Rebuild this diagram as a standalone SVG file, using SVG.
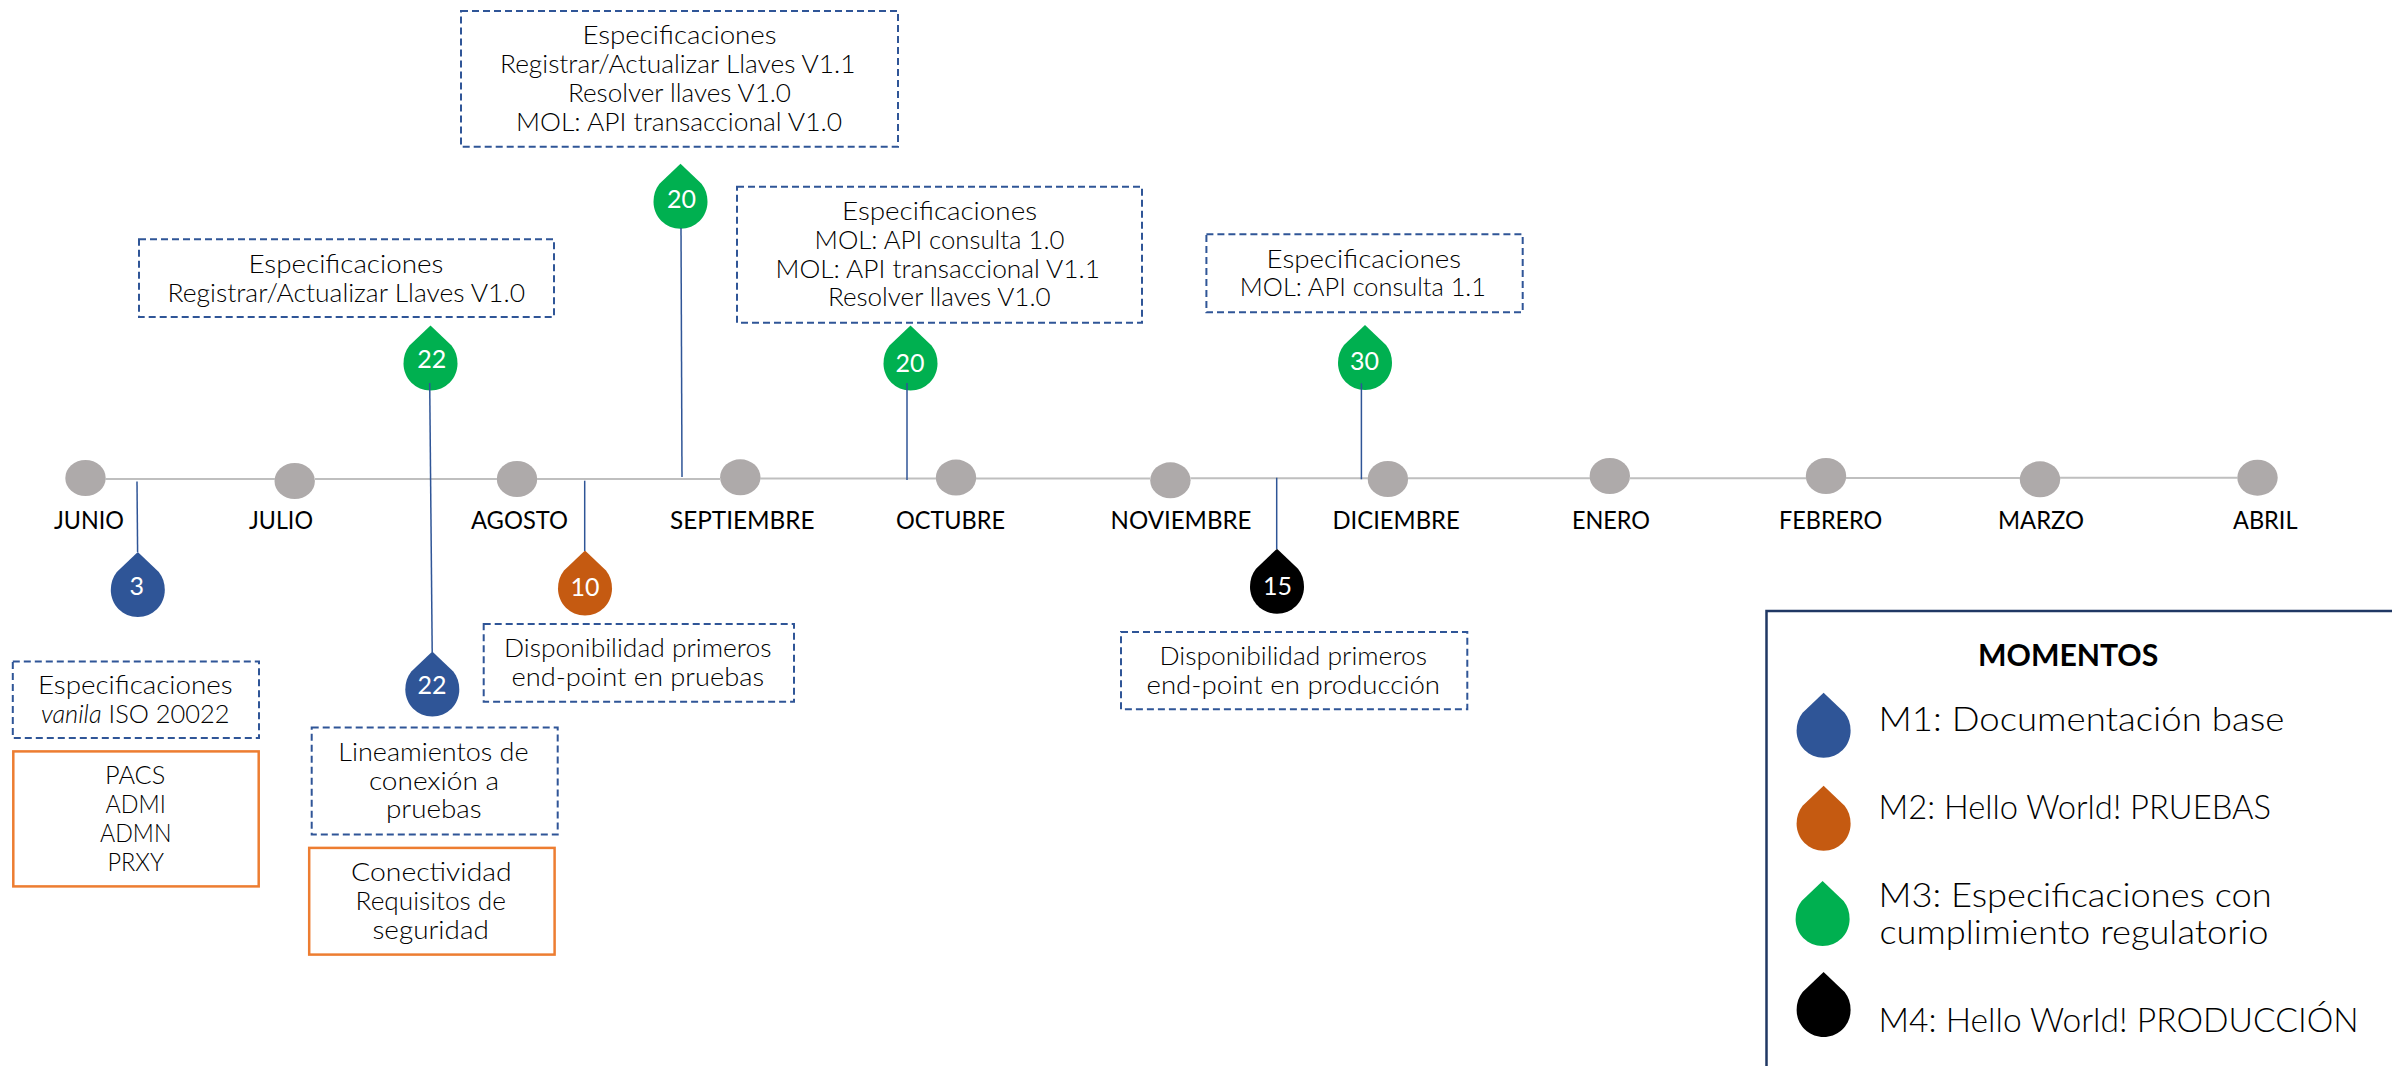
<svg xmlns="http://www.w3.org/2000/svg" width="2392" height="1066" viewBox="0 0 2392 1066">
<style>
.b{fill:#fff;stroke:#2F5597;stroke-width:2;stroke-dasharray:7 4}
.o{fill:#fff;stroke:#ED7D31;stroke-width:2.5}
.t{font-family:"Lato","Liberation Sans",sans-serif;font-size:25px;font-weight:300;fill:#000}
.m{font-family:"Lato","Liberation Sans",sans-serif;font-size:25px;fill:#000}
.n{font-family:"Lato","Liberation Sans",sans-serif;font-size:25px;fill:#fff;text-anchor:middle}
.l{font-family:"Lato","Liberation Sans",sans-serif;font-size:34px;font-weight:300;fill:#000}
.h{font-family:"Lato","Liberation Sans",sans-serif;font-size:31px;font-weight:700;fill:#000}
.e{fill:#AEAAAA}
.axis{fill:none;stroke:#BFBFBF;stroke-width:2}
.c{fill:none;stroke:#2F5597;stroke-width:1.5}
.blue{fill:#2F5597}.orange{fill:#C55A11}.green{fill:#00B050}.black{fill:#000}
</style>
<defs>
<path id="drop" d="M0 0L21 20C25 25 27 31 27 38C27 53 15 65 0 65C-15 65-27 53-27 38C-27 31-25 25-21 20Z"/>
</defs>

<g id="month-junio"><ellipse class="e" cx="85.5" cy="478" rx="20.2" ry="18"/><text class="m" x="54" y="528.6" textLength="70" lengthAdjust="spacingAndGlyphs">JUNIO</text></g>
<g id="month-julio"><ellipse class="e" cx="294.7" cy="481" rx="20.2" ry="18"/><text class="m" x="249" y="528.6" textLength="64" lengthAdjust="spacingAndGlyphs">JULIO</text></g>
<g id="month-agosto"><ellipse class="e" cx="517" cy="479" rx="20.2" ry="18"/><text class="m" x="471" y="528.6" textLength="97" lengthAdjust="spacingAndGlyphs">AGOSTO</text></g>
<g id="month-septiembre"><ellipse class="e" cx="740.3" cy="477.3" rx="20.2" ry="18"/><text class="m" x="670" y="528.6" textLength="144.6" lengthAdjust="spacingAndGlyphs">SEPTIEMBRE</text></g>
<g id="month-octubre"><ellipse class="e" cx="956" cy="477.6" rx="20.2" ry="18"/><text class="m" x="896" y="528.6" textLength="109" lengthAdjust="spacingAndGlyphs">OCTUBRE</text></g>
<g id="month-noviembre"><ellipse class="e" cx="1170.4" cy="480.3" rx="20.2" ry="18"/><text class="m" x="1110.5" y="528.6" textLength="141" lengthAdjust="spacingAndGlyphs">NOVIEMBRE</text></g>
<g id="month-diciembre"><ellipse class="e" cx="1387.9" cy="479" rx="20.2" ry="18"/><text class="m" x="1332.5" y="528.6" textLength="127.3" lengthAdjust="spacingAndGlyphs">DICIEMBRE</text></g>
<g id="month-enero"><ellipse class="e" cx="1609.8" cy="476" rx="20.2" ry="18"/><text class="m" x="1572" y="528.6" textLength="78" lengthAdjust="spacingAndGlyphs">ENERO</text></g>
<g id="month-febrero"><ellipse class="e" cx="1826" cy="476" rx="20.2" ry="18"/><text class="m" x="1779" y="528.6" textLength="103.3" lengthAdjust="spacingAndGlyphs">FEBRERO</text></g>
<g id="month-marzo"><ellipse class="e" cx="2040" cy="479.3" rx="20.2" ry="18"/><text class="m" x="1998" y="528.6" textLength="86" lengthAdjust="spacingAndGlyphs">MARZO</text></g>
<g id="month-abril"><ellipse class="e" cx="2257.5" cy="477.7" rx="20.2" ry="18"/><text class="m" x="2233" y="528.6" textLength="64.5" lengthAdjust="spacingAndGlyphs">ABRIL</text></g>

<g id="drop-3"><use href="#drop" class="blue" x="137.8" y="552"/><text class="n" x="136.8" y="595">3</text></g>
<g id="drop-22-verde"><use href="#drop" class="green" x="430.5" y="325.5"/><text class="n" x="431.7" y="367.7">22</text></g>
<g id="drop-22-azul"><use href="#drop" class="blue" x="432.3" y="651.5"/><text class="n" x="432" y="694">22</text></g>
<g id="drop-10"><use href="#drop" class="orange" x="585" y="550.5"/><text class="n" x="585" y="596">10</text></g>
<g id="drop-20-a"><use href="#drop" class="green" x="680.5" y="163.7"/><text class="n" x="681.5" y="207.7">20</text></g>
<g id="drop-20-b"><use href="#drop" class="green" x="910.5" y="325.5"/><text class="n" x="910" y="371.7">20</text></g>
<g id="drop-15"><use href="#drop" class="black" x="1277" y="548.7"/><text class="n" x="1277.5" y="594.7">15</text></g>
<g id="drop-30"><use href="#drop" class="green" x="1365" y="325"/><text class="n" x="1364.5" y="370">30</text></g>

<g id="box-vanila"><rect class="b" x="12.8" y="661.4" width="246.2" height="76.6"/>
<text class="t" x="38" y="694.3" textLength="194.6" lengthAdjust="spacingAndGlyphs">Especificaciones</text>
<text class="t" x="41" y="722.9" textLength="188.6" lengthAdjust="spacingAndGlyphs"><tspan font-style="italic">vanila</tspan> ISO 20022</text></g>
<g id="box-pacs"><rect class="o" x="13.3" y="751.4" width="245.4" height="135"/>
<text class="t" x="105" y="783.6" textLength="60.3" lengthAdjust="spacingAndGlyphs">PACS</text>
<text class="t" x="105.5" y="812.9" textLength="60.3" lengthAdjust="spacingAndGlyphs">ADMI</text>
<text class="t" x="100" y="841.8" textLength="71.4" lengthAdjust="spacingAndGlyphs">ADMN</text>
<text class="t" x="107.5" y="870.7" textLength="56.5" lengthAdjust="spacingAndGlyphs">PRXY</text></g>
<g id="box-llaves-10"><rect class="b" x="139" y="239.3" width="415" height="77.7"/>
<text class="t" x="248.5" y="272.7" textLength="194.8" lengthAdjust="spacingAndGlyphs">Especificaciones</text>
<text class="t" x="167.5" y="302" textLength="357.5" lengthAdjust="spacingAndGlyphs">Registrar/Actualizar Llaves V1.0</text></g>
<g id="box-llaves-11"><rect class="b" x="461" y="11" width="437" height="135.7"/>
<text class="t" x="582.5" y="44" textLength="194.1" lengthAdjust="spacingAndGlyphs">Especificaciones</text>
<text class="t" x="500" y="73" textLength="355.5" lengthAdjust="spacingAndGlyphs">Registrar/Actualizar Llaves V1.1</text>
<text class="t" x="568" y="101.7" textLength="223" lengthAdjust="spacingAndGlyphs">Resolver llaves V1.0</text>
<text class="t" x="516" y="131" textLength="326" lengthAdjust="spacingAndGlyphs">MOL: API transaccional V1.0</text></g>
<g id="box-mol"><rect class="b" x="737" y="186.7" width="405" height="136"/>
<text class="t" x="842" y="220" textLength="195" lengthAdjust="spacingAndGlyphs">Especificaciones</text>
<text class="t" x="814.6" y="249" textLength="249.8" lengthAdjust="spacingAndGlyphs">MOL: API consulta 1.0</text>
<text class="t" x="775.5" y="277.7" textLength="324.5" lengthAdjust="spacingAndGlyphs">MOL: API transaccional V1.1</text>
<text class="t" x="828" y="305.7" textLength="222.6" lengthAdjust="spacingAndGlyphs">Resolver llaves V1.0</text></g>
<g id="box-consulta"><rect class="b" x="1206.4" y="234.3" width="316.3" height="78"/>
<text class="t" x="1266.6" y="268.3" textLength="194.4" lengthAdjust="spacingAndGlyphs">Especificaciones</text>
<text class="t" x="1239.8" y="296.3" textLength="246.2" lengthAdjust="spacingAndGlyphs">MOL: API consulta 1.1</text></g>
<g id="box-lineamientos"><rect class="b" x="311.7" y="727.5" width="246" height="107.1"/>
<text class="t" x="338.3" y="761" textLength="190.3" lengthAdjust="spacingAndGlyphs">Lineamientos de</text>
<text class="t" x="368.9" y="790" textLength="130.1" lengthAdjust="spacingAndGlyphs">conexión a</text>
<text class="t" x="386" y="818" textLength="95.6" lengthAdjust="spacingAndGlyphs">pruebas</text></g>
<g id="box-conectividad"><rect class="o" x="309.2" y="847.9" width="245.4" height="106.7"/>
<text class="t" x="351" y="881" textLength="160.7" lengthAdjust="spacingAndGlyphs">Conectividad</text>
<text class="t" x="355.6" y="910" textLength="150.4" lengthAdjust="spacingAndGlyphs">Requisitos de</text>
<text class="t" x="372.5" y="938.6" textLength="116.3" lengthAdjust="spacingAndGlyphs">seguridad</text></g>
<g id="box-pruebas"><rect class="b" x="483.7" y="624" width="310.3" height="77.8"/>
<text class="t" x="504" y="657" textLength="267.4" lengthAdjust="spacingAndGlyphs">Disponibilidad primeros</text>
<text class="t" x="511.5" y="686.4" textLength="252.5" lengthAdjust="spacingAndGlyphs">end-point en pruebas</text></g>
<g id="box-produccion"><rect class="b" x="1121" y="632" width="346.3" height="77.3"/>
<text class="t" x="1159.5" y="665" textLength="267.5" lengthAdjust="spacingAndGlyphs">Disponibilidad primeros</text>
<text class="t" x="1146.5" y="694" textLength="293.5" lengthAdjust="spacingAndGlyphs">end-point en producción</text></g>

<g id="legend">
<rect x="1766.5" y="611" width="640" height="470" fill="#fff" stroke="#203864" stroke-width="2.5"/>
<text class="h" x="1978" y="665.7" textLength="180.3" lengthAdjust="spacingAndGlyphs">MOMENTOS</text>
<use href="#drop" class="blue" x="1823.6" y="692.7"/>
<text class="l" x="1878.5" y="731" textLength="405.8" lengthAdjust="spacingAndGlyphs">M1: Documentación base</text>
<use href="#drop" class="orange" x="1823.6" y="785.7"/>
<text class="l" x="1878.5" y="818.7" textLength="392.5" lengthAdjust="spacingAndGlyphs">M2: Hello World! PRUEBAS</text>
<use href="#drop" class="green" x="1822.6" y="881"/>
<text class="l" x="1878.5" y="907.3" textLength="393.3" lengthAdjust="spacingAndGlyphs">M3: Especificaciones con</text>
<text class="l" x="1879.5" y="944.3" textLength="389" lengthAdjust="spacingAndGlyphs">cumplimiento regulatorio</text>
<use href="#drop" class="black" x="1823.6" y="972"/>
<text class="l" x="1878.5" y="1032.3" textLength="480.2" lengthAdjust="spacingAndGlyphs">M4: Hello World! PRODUCCIÓN</text>
</g>

<g id="connectors">
<path class="axis" d="M105 479H275M315 479H497M537 479H720M760 478.5H936M976 478.5H1150M1190.5 478.3H1368M1408 478.3H1590M1630 478.3H1806M1846 478H2020M2060 477.7H2238"/>
<path class="c" d="M137 481.4L137.6 552"/>
<path class="c" d="M429.7 383L432.2 652"/>
<path class="c" d="M584.7 480.7V551"/>
<path class="c" d="M681 228L682 477"/>
<path class="c" d="M907 383V480"/>
<path class="c" d="M1276.7 477.7V549.3"/>
<path class="c" d="M1361.4 383.3V479.3"/>
</g>
</svg>
